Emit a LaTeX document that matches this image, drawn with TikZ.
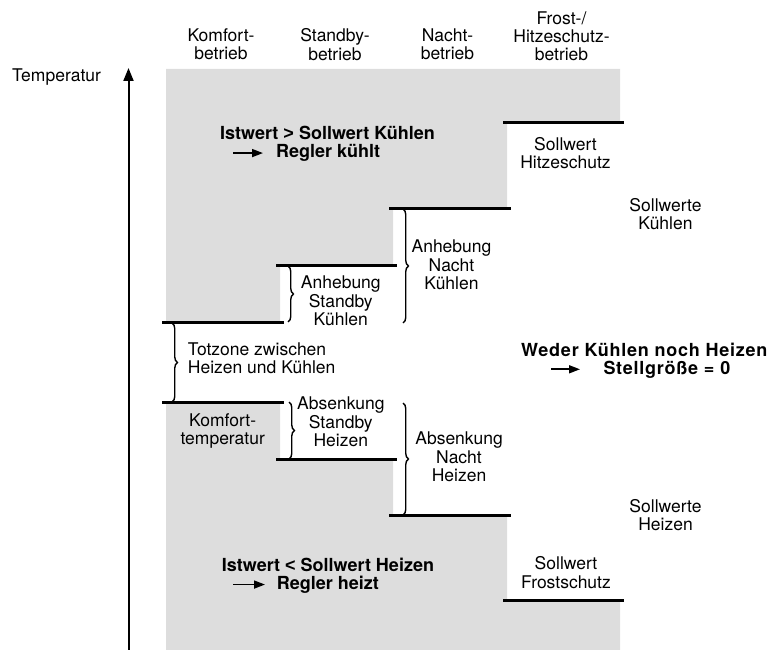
\documentclass[tikz,border=0pt]{standalone}
\usepackage{fontspec}
\setmainfont{TeX Gyre Heros}
\newfontfamily\spacedfont[LetterSpace=4.2]{TeX Gyre Heros}
\newfontfamily\signfont{Liberation Sans}
\usetikzlibrary{arrows.meta,decorations.pathreplacing}
\definecolor{zonegray}{RGB}{221,221,221}
\tikzset{
  lbl/.style={inner sep=0pt, align=center, font=\fontsize{17.5}{18.2}\selectfont},
  boldlbl/.style={inner sep=0pt, font=\fontsize{18}{19}\selectfont\bfseries},
  stepline/.style={line width=3pt},
  bracket/.style={line width=1.4pt, decorate, decoration={brace, amplitude=5.5pt}},
  axisarrow/.style={line width=2pt, -{Triangle[length=13pt,width=10pt]}},
  smallarrow/.style={line width=1.6pt, -{Triangle[length=11pt,width=8pt]}},
}
\begin{document}
\begin{tikzpicture}[x=1pt, y=-1pt]
\useasboundingbox (0,0) rectangle (772,650);

% shaded regions: cooling (top) and heating (bottom)
\fill[zonegray] (166,69) -- (620,69) -- (620,123) -- (507,123) -- (507,209)
  -- (393,209) -- (393,266) -- (280,266) -- (280,322) -- (166,322) -- cycle;
\fill[zonegray] (166,402) -- (280,402) -- (280,459) -- (393,459) -- (393,515)
  -- (507,515) -- (507,600) -- (620,600) -- (620,650) -- (166,650) -- cycle;

% temperature axis
\coordinate (axbot) at (128.5,650);
\coordinate (axtop) at (128.5,68);
\draw[axisarrow] (axbot) -- (axtop);
\node[lbl, anchor=base west] (temp) at (12,81.7) {Temperatur};

% operating modes
\node[lbl] (hK) at (221,44.5) {Komfort-\\betrieb};
\node[lbl] (hS) at (335,44.5) {Standby-\\betrieb};
\node[lbl] (hN) at (447.5,44.5) {Nacht-\\betrieb};
\node[lbl] (hF) at (561.5,36.2) {Frost-/\\Hitzeschutz-\\betrieb};

% setpoint levels, cooling
\coordinate (c4a) at (503,123); \coordinate (c4b) at (624,123);
\coordinate (c3a) at (389,209); \coordinate (c3b) at (511,209);
\coordinate (c2a) at (276,266); \coordinate (c2b) at (397,266);
\coordinate (c1a) at (162,322); \coordinate (c1b) at (284,322);
% setpoint levels, heating
\coordinate (h1a) at (162,402); \coordinate (h1b) at (284,402);
\coordinate (h2a) at (276,459); \coordinate (h2b) at (397,459);
\coordinate (h3a) at (389,515); \coordinate (h3b) at (511,515);
\coordinate (h4a) at (503,600); \coordinate (h4b) at (624,600);
\foreach \p in {c1,c2,c3,c4,h1,h2,h3,h4}
  \draw[stepline] (\p a) -- (\p b);

% braces
\coordinate (bTt) at (172,323); \coordinate (bTb) at (172,402);
\coordinate (bASt) at (288,266); \coordinate (bASb) at (288,322);
\coordinate (bANt) at (403,209); \coordinate (bANb) at (403,323);
\coordinate (bBSt) at (289,402); \coordinate (bBSb) at (289,459);
\coordinate (bBNt) at (403,403); \coordinate (bBNb) at (403,515);
\draw[bracket] (bTt) -- (bTb);
\draw[bracket] (bASt) -- (bASb);
\draw[bracket] (bANt) -- (bANb);
\draw[bracket] (bBSt) -- (bBSb);
\draw[bracket] (bBNt) -- (bBNb);

% labels
\node[lbl] (hitze) at (565.5,153.2) {Sollwert\\Hitzeschutz};
\node[lbl] (sk) at (665.5,214.2) {Sollwerte\\Kühlen};
\node[lbl] (anhN) at (451.5,264.9) {Anhebung\\Nacht\\Kühlen};
\node[lbl] (anhS) at (340.8,300.8) {Anhebung\\Standby\\Kühlen};
\node[lbl, align=left, anchor=west] (totz) at (187.7,358.2) {Totzone zwischen\\Heizen und Kühlen};
\node[lbl] (komf) at (222.7,431) {Komfort-\\temperatur};
\node[lbl] (absS) at (340.8,421.8) {Absenkung\\Standby\\Heizen};
\node[lbl] (absN) at (459,456.8) {Absenkung\\Nacht\\Heizen};
\node[lbl] (sh) at (665.5,514.8) {Sollwerte\\Heizen};
\node[lbl] (frost) at (566,572.5) {Sollwert\\Frostschutz};

% controller behaviour
\node[boldlbl, anchor=base west] (ist1) at (220,140) {Istwert {\signfont >} Sollwert Kühlen};
\node[boldlbl, anchor=base west] (reg1) at (276,157.7) {Regler kühlt};
\coordinate (a1) at ([xshift=-43pt]reg1.west);
\draw[smallarrow, shorten >=13pt] (a1) -- (reg1.west);

\node[boldlbl, anchor=base, font=\fontsize{18}{19}\selectfont\spacedfont\bfseries] (weder) at (644.3,356) {Weder Kühlen noch Heizen};
\node[boldlbl, anchor=base west, font=\fontsize{18}{19}\selectfont\spacedfont\bfseries] (stell) at (603.3,374) {Stellgröße = 0};
\coordinate (a2) at ([xshift=-52.3pt]stell.west);
\draw[smallarrow, shorten >=23.3pt] (a2) -- (stell.west);

\node[boldlbl, anchor=base west] (ist2) at (221.7,571.7) {Istwert {\signfont <} Sollwert Heizen};
\node[boldlbl, anchor=base west] (reg2) at (276.7,589.3) {Regler heizt};
\coordinate (a3) at ([xshift=-43.7pt]reg2.west);
\draw[smallarrow, shorten >=11.7pt] (a3) -- (reg2.west);
\end{tikzpicture}
\end{document}
